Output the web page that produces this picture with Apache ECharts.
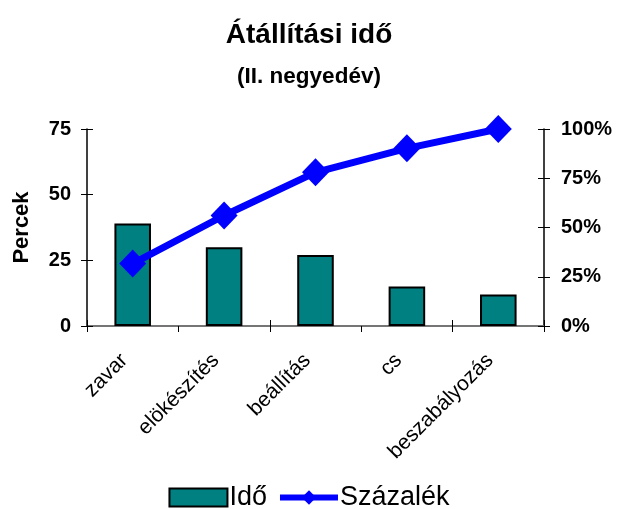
<!DOCTYPE html>
<html><head><meta charset="utf-8">
<script src="https://cdn.jsdelivr.net/npm/echarts@6/dist/echarts.min.js"></script>
<style>html,body{margin:0;padding:0;background:#fff}#c{width:618px;height:509px}</style>
</head><body><div id="c"></div>
<script>
var categories = ['zavar', 'elökészítés', 'beállítás', 'cs', 'beszabályozás'];
var idoValues = [39, 30, 27, 15, 12];
var szazalekValues = [31.7, 56.1, 78.0, 90.2, 100];
var leftTicks = [0, 25, 50, 75];
var rightTicks = [0, 25, 50, 75, 100];

var F = 'Liberation Sans, Arial, sans-serif';
var chart = echarts.init(document.getElementById('c'));
chart.setOption({
  animation: false,
  title: [
    {text: 'Átállítási idő', left: 'center', top: 16, textStyle: {fontFamily: F, fontSize: 28, fontWeight: 'bold', color: '#000'}},
    {text: '(II. negyedév)', left: 'center', top: 60, textStyle: {fontFamily: F, fontSize: 22.5, fontWeight: 'bold', color: '#000'}}
  ],
  legend: {
    top: 479, left: 'center', itemWidth: 58, itemHeight: 18, itemGap: 10,
    textStyle: {fontFamily: F, fontSize: 27, color: '#000', padding: [0,0,0,-3]},
    data: [{name: 'Idő', icon: 'rect'}, {name: 'Százalék', lineStyle: {width: 6, color: '#0000ff'}}]
  },
  grid: {left: 87, right: 74, top: 129, bottom: 183, containLabel: false},
  xAxis: [
    {type: 'category', data: categories, boundaryGap: true,
     axisLine: {lineStyle: {color: '#000', width: 1.5}},
     axisTick: {show: true, length: 6, lineStyle: {color: '#000'}},
     axisLabel: {rotate: 45, fontFamily: F, fontSize: 21, color: '#000', margin: 23, interval: 0,
                 formatter: function (v) { return v + '\u00a0\u00a0'; }}},
    {type: 'category', data: categories, position: 'bottom', boundaryGap: true,
     axisLine: {show: false}, axisTick: {show: true, inside: true, length: 6, lineStyle: {color: '#000'}},
     axisLabel: {show: false}},
    {type: 'category', data: categories, position: 'top', boundaryGap: true,
     axisLine: {show: true, lineStyle: {color: '#888', width: 1.5}}, axisTick: {show: false},
     axisLabel: {show: false}}
  ],
  yAxis: [
    {type: 'value', min: leftTicks[0], max: leftTicks[leftTicks.length-1], interval: 25, position: 'left',
     name: 'Percek', nameLocation: 'middle', nameGap: 54, nameRotate: 90,
     nameTextStyle: {fontFamily: F, fontSize: 22, fontWeight: 'bold', color: '#000'},
     axisLine: {show: true, lineStyle: {color: '#000', width: 1.5}},
     axisTick: {show: true, length: 6, lineStyle: {color: '#000'}},
     splitLine: {show: false},
     axisLabel: {fontFamily: F, fontSize: 20, fontWeight: 'bold', color: '#000', margin: 16}},
    {type: 'value', min: rightTicks[0], max: rightTicks[rightTicks.length-1], interval: 25, position: 'right',
     axisLine: {show: true, lineStyle: {color: '#000', width: 1.5}},
     axisTick: {show: true, length: 6, lineStyle: {color: '#000'}},
     splitLine: {show: false},
     axisLabel: {formatter: '{value}%', fontFamily: F, fontSize: 20, fontWeight: 'bold', color: '#000', margin: 17}},
    {type: 'value', min: 0, max: 75, interval: 25, position: 'left',
     axisLine: {show: false}, axisTick: {show: true, inside: true, length: 6, lineStyle: {color: '#000'}},
     axisLabel: {show: false}, splitLine: {show: false}},
    {type: 'value', min: 0, max: 100, interval: 25, position: 'right',
     axisLine: {show: false}, axisTick: {show: true, inside: true, length: 6, lineStyle: {color: '#000'}},
     axisLabel: {show: false}, splitLine: {show: false}}
  ],
  series: [
    {name: 'Idő', type: 'bar', data: idoValues, xAxisIndex: 0, yAxisIndex: 0, barWidth: '40%',
     itemStyle: {color: '#008080', borderColor: '#000', borderWidth: 2}},
    {name: 'Százalék', type: 'line', data: szazalekValues, xAxisIndex: 0, yAxisIndex: 1,
     symbol: 'diamond', symbolSize: [27, 28], lineStyle: {color: '#0000ff', width: 7},
     itemStyle: {color: '#0000ff'}, z: 5}
  ]
});
</script></body></html>
